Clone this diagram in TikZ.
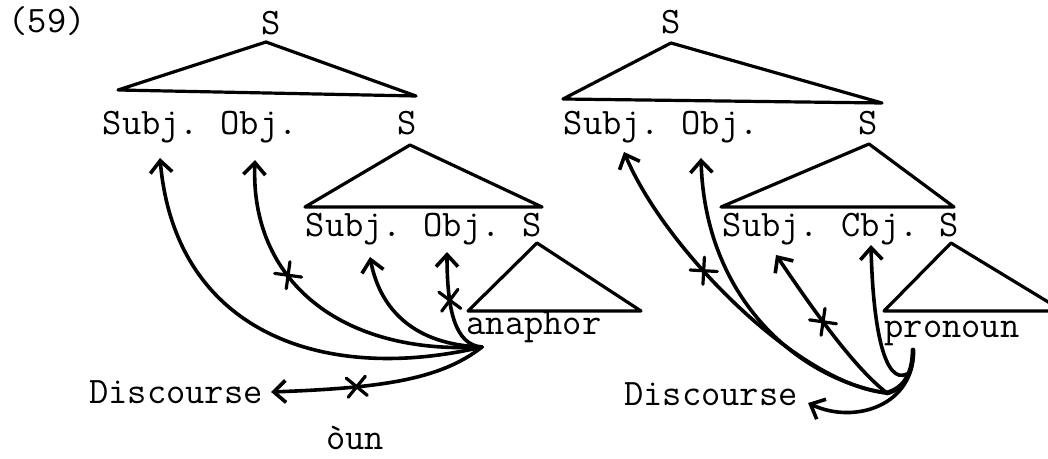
\documentclass[tikz,border=0pt]{standalone}
\usepackage{fontspec}
\usetikzlibrary{arrows.meta,shapes.misc}

\begin{document}
\begin{tikzpicture}[
  x=0.5pt, y=-0.5pt,
  lbl/.style={font=\ttfamily\fontsize{18.7pt}{20pt}\selectfont, inner sep=0pt, anchor=base},
  tri/.style={line width=1.6pt, line join=round},
  link/.style={-{Straight Barb[length=6pt,width=11pt]}, line width=1.8pt, line cap=round},
  xmark/.style={-, cross out, draw, sloped, line width=1.6pt, minimum size=8pt, inner sep=0pt}
]
\useasboundingbox (0,0) rectangle (1048,459);

% left tree
\node[lbl] (num) at (47,33) {(59)};
\node[lbl] (sA) at (271,35) {S};
\node[lbl] (subjA) at (151,135) {Subj.};
\node[lbl] (objA) at (259,135) {Obj.};
\node[lbl] (sB) at (407,135) {S};
\node[lbl] (subjB) at (354,237) {Subj.};
\node[lbl] (objB) at (462,237) {Obj.};
\node[lbl] (sC) at (532,237) {S};
\node[lbl] (ana) at (534,335) {anaphor};
\node[lbl] (discA) at (176,403) {Discourse};
\node[lbl] (oun) at (355,449) {òun};

\draw[tri] ([shift={(-5,7)}]sA.base) -- (118,90) -- (416,96) -- cycle;
\draw[tri] ([shift={(3,10)}]sB.base) -- (305,207) -- (542,207) -- cycle;
\draw[tri] ([shift={(5,6)}]sC.base) -- (468,311) -- (641,311) -- cycle;

\coordinate (hubA) at ([shift={(-52,12)}]ana.base);
\draw[link] (hubA) .. controls (320,385) and (175,330) .. ([shift={(9,23)}]subjA.base);
\draw[link] (hubA) .. controls (340,355) and (250,280) .. ([shift={(-4,25)}]objA.base) node[xmark,pos=0.62] {};
\draw[link] (hubA) .. controls (415,345) and (380,310) .. ([shift={(16,20)}]subjB.base);
\draw[link] (hubA) .. controls (455,345) and (447,310) .. ([shift={(-15,15)}]objB.base) node[xmark,pos=0.68] {};
\draw[link] (hubA) .. controls (440,380) and (380,388) .. ([shift={(8,-11)}]discA.base east) node[xmark,pos=0.7] {};

% right tree
\node[lbl] (sD) at (671,34) {S};
\node[lbl] (subjC) at (612,135) {Subj.};
\node[lbl] (objC) at (720,135) {Obj.};
\node[lbl] (sE) at (868,135) {S};
\node[lbl] (subjD) at (771,237) {Subj.};
\node[lbl] (objD) at (880,237) {Cbj.};
\node[lbl] (sF) at (949,237) {S};
\node[lbl] (pro) at (952,337) {pronoun};
\node[lbl] (discB) at (711,405) {Discourse};

\draw[tri] ([shift={(0,9)}]sD.base) -- (563,99) -- (882,103) -- cycle;
\draw[tri] ([shift={(1,9)}]sE.base) -- (721,207) -- (954,207) -- cycle;
\draw[tri] ([shift={(2,6)}]sF.base) -- (884,311) -- (1063,311) -- cycle;

\coordinate (hubB) at ([shift={(-65,56)}]pro.base);
\coordinate (hook) at ([shift={(-39,13)}]pro.base);
\coordinate (hookmid) at ([shift={(-45,37)}]pro.base);
\draw[line width=2.4pt, line cap=round] (hubB) .. controls (905,388) and (913,372) .. (hook);
\draw[link] (hook) .. controls (915,405) and (855,425) .. ([shift={(10,-2)}]discB.base east);
\draw[link] (hubB) .. controls (800,385) and (665,250) .. ([shift={(12,17)}]subjC.base) node[xmark,pos=0.62] {};
\draw[link] (hubB) .. controls (800,380) and (705,300) .. ([shift={(-19,23)}]objC.base);
\draw[link] (hubB) .. controls (850,365) and (800,290) .. ([shift={(5,18)}]subjD.base) node[xmark,pos=0.53] {};
\draw[link] (hookmid) .. controls (885,385) and (873,330) .. ([shift={(-9,8)}]objD.base);
\end{tikzpicture}
\end{document}
